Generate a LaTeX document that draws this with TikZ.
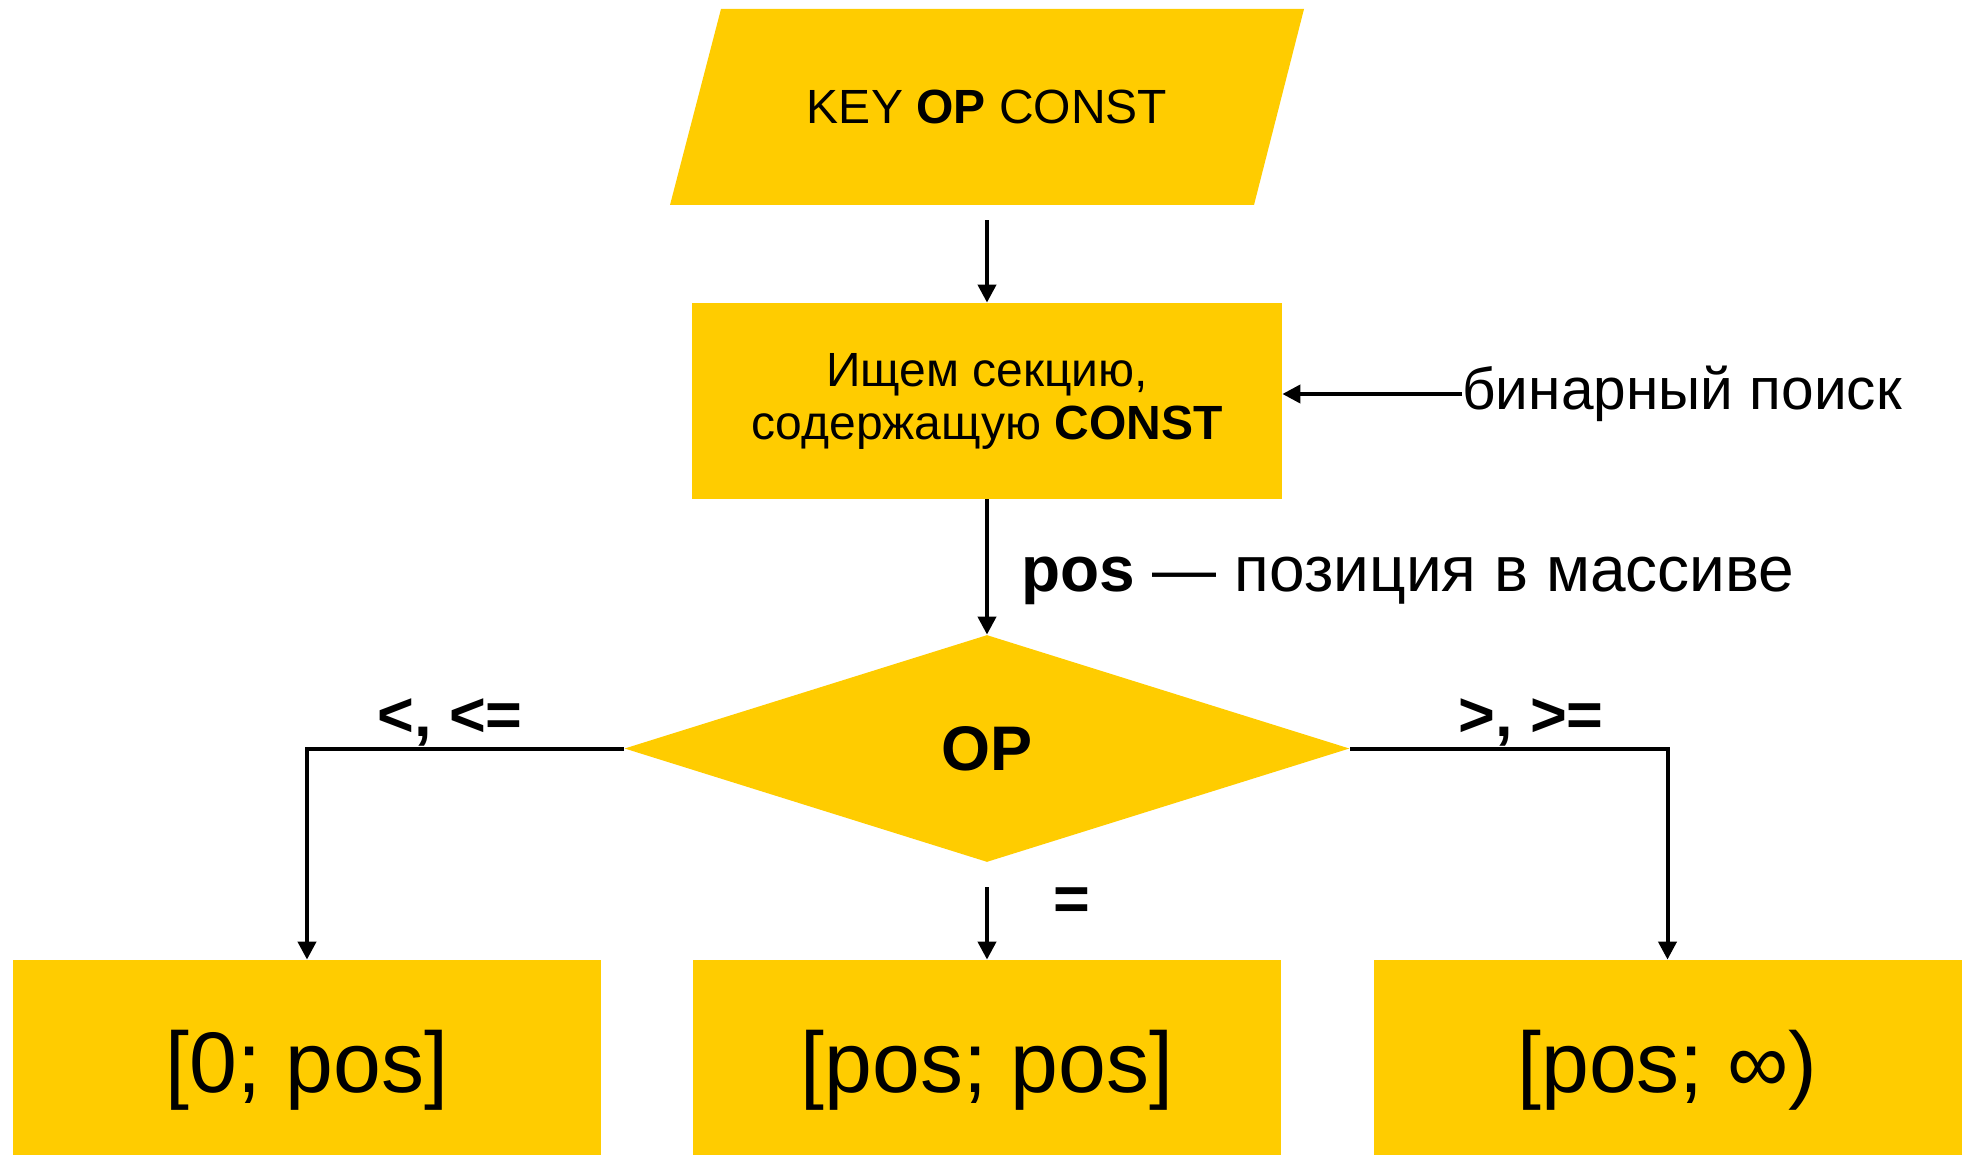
\documentclass[tikz,border=0pt]{standalone}
\usepackage{fontspec}
\setmainfont{Liberation Sans}
\usetikzlibrary{arrows.meta,shapes.geometric,positioning}
\definecolor{ya}{RGB}{255,204,0}
\tikzset{>={Triangle[width=9pt,length=9pt]}}
\tikzstyle{block}=[rectangle,fill=ya,minimum width=295pt,minimum height=98pt,inner sep=0pt,align=center,font=\fontsize{24}{26.5}\selectfont]
\tikzstyle{inblock}=[rectangle,minimum width=291.5pt,minimum height=98pt,inner sep=0pt,font=\fontsize{24}{26.5}\selectfont]
\tikzstyle{decision}=[diamond,fill=ya,minimum width=362.5pt,minimum height=113.5pt,inner sep=0pt,font=\bfseries\fontsize{31.5}{36}\selectfont]
\tikzstyle{result}=[block,minimum width=294pt,minimum height=110pt,font=\fontsize{43}{48}\selectfont]
\tikzstyle{flow}=[line width=2pt]
\tikzstyle{cond}=[inner sep=0pt,font=\bfseries\fontsize{31.5}{36}\selectfont]

\begin{document}
\begin{tikzpicture}[x=0.5pt,y=-0.5pt]
	\def \cx {987}
	\def \lx {307}
	\def \rx {1667.5}

	\useasboundingbox (0,0) rectangle (1972,1155);

	\fill[ya] (\cx-266,9) -- (\cx+317,9) -- (\cx+267,205) -- (\cx-317,205) -- cycle;
	\node[inblock] (inp) at (\cx,107) {KEY \textbf{OP} CONST};
	\node[block] (srch) at (\cx,401) {Ищем секцию,\\содержащую \textbf{CONST}};
	\node[decision] (cmp) at (\cx,748.5) {OP};
	\node[result] (lo) at (\lx,1070) {[0; pos]};
	\node[result] (eq) at (\cx,1070) {[pos; pos]};
	\node[result] (hi) at (\rx,1070) {[pos; ∞)};

	\node[inner sep=0pt,font=\fontsize{29.3}{34}\selectfont,anchor=west] (hint) at (1462,394) {бинарный поиск};
	\node[inner sep=0pt,font=\fontsize{32}{36}\selectfont,anchor=west] (poslbl) at (1021,581) {\textbf{pos} — позиция в массиве};
	\node[cond] (ltlbl) at (450,722) {<, <=};
	\node[cond] (gtlbl) at (1531,722) {>, >=};
	\node[cond] (eqlbl) at (1072,904) {=};

	\draw[flow,->,shorten <=7.5pt] (inp.south) -- (srch.north);
	\draw[flow,->] (hint.west) -- (srch.east |- hint.west);
	\draw[flow,->] (srch.south) -- (cmp.north);
	\draw[flow,->] (cmp.west) -| (lo.north);
	\draw[flow,->] (cmp.east) -| (hi.north);
	\draw[flow,->,shorten <=12.5pt] (cmp.south) -- (eq.north);
\end{tikzpicture}
\end{document}
